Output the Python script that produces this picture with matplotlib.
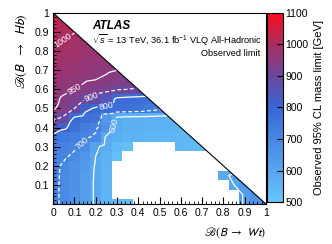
import numpy as np
import matplotlib
matplotlib.use("Agg")
import matplotlib.pyplot as plt
import matplotlib.tri as mtri
from matplotlib.colors import LinearSegmentedColormap
from matplotlib.ticker import MultipleLocator

plt.rcParams['font.family'] = ['Liberation Sans', 'DejaVu Sans']
plt.rcParams['mathtext.fontset'] = 'custom'
plt.rcParams['mathtext.rm'] = 'Liberation Sans'
plt.rcParams['mathtext.it'] = 'Liberation Sans:italic'

# bin centres of B(B->Wt) and B(B->Hb)
br_wt = [0.0, 0.05, 0.1, 0.15, 0.2, 0.25, 0.3, 0.35, 0.4, 0.45, 0.5,
         0.55, 0.6, 0.65, 0.7, 0.75, 0.8, 0.85, 0.9, 0.95, 1.0]
br_hb = br_wt

# observed mass limit [GeV], one list per B(B->Hb) row (y = 0 ... 1), x = 0 ... 1-y
# values below 500 are not shown (blank cells)
limit_rows = [
    [712, 690, 665, 628, 592, 555, 535, 530, 470, 470, 470, 470, 470, 470, 470, 470, 470, 470, 630, 660, 690],
    [712, 690, 665, 628, 592, 552, 470, 470, 470, 470, 470, 470, 470, 470, 470, 470, 470, 470, 630, 665],
    [712, 690, 665, 628, 592, 555, 470, 470, 470, 470, 470, 470, 470, 470, 470, 470, 470, 600, 645],
    [713, 691, 666, 630, 593, 558, 470, 470, 470, 470, 470, 470, 470, 470, 470, 470, 585, 615],
    [714, 693, 670, 635, 595, 560, 470, 470, 470, 470, 470, 470, 470, 470, 470, 470, 470],
    [720, 708, 690, 650, 600, 565, 525, 470, 470, 470, 470, 470, 470, 470, 470, 470],
    [730, 718, 708, 685, 612, 578, 540, 520, 470, 470, 470, 470, 545, 540, 540],
    [760, 740, 725, 710, 690, 590, 575, 562, 558, 555, 552, 550, 548, 545],
    [880, 815, 770, 730, 712, 660, 585, 572, 568, 565, 560, 558, 555],
    [915, 890, 790, 770, 760, 640, 585, 575, 572, 570, 568, 565],
    [955, 935, 900, 820, 790, 780, 770, 765, 760, 740, 720],
    [958, 945, 925, 900, 888, 850, 785, 778, 772, 765],
    [965, 957, 950, 942, 932, 918, 905, 900, 895],
    [972, 965, 958, 953, 950, 946, 940, 932],
    [982, 975, 968, 962, 957, 953, 950],
    [990, 983, 977, 970, 965, 960],
    [997, 990, 984, 978, 972],
    [1005, 998, 992, 985],
    [1020, 1005, 1001],
    [1030, 1018],
    [1040],
]

contour_levels = [600, 700, 800, 900, 950, 1000]
contour_dashed = [False, True, False, True, False, True]
# where the contour value is written
label_spots = [(0.27, 0.41), (0.12, 0.34), (0.25, 0.51), (0.18, 0.56), (0.1, 0.6), (0.05, 0.85)]
cbar_ticks = [500, 600, 700, 800, 900, 1000, 1100]

n = len(br_wt)
z = np.full((n, n), np.nan)
for j, row in enumerate(limit_rows):
    z[j, :len(row)] = row

xc = np.array(br_wt)
yc = np.array(br_hb)
xe = np.concatenate([xc - 0.025, [xc[-1] + 0.025]])
ye = np.concatenate([yc - 0.025, [yc[-1] + 0.025]])

cmap = LinearSegmentedColormap.from_list("atlas_vlq", [
    (0.0, (0.40, 0.78, 0.98)),
    (1/6, (0.34, 0.65, 0.94)),
    (2/6, (0.28, 0.53, 0.89)),
    (3/6, (0.22, 0.40, 0.83)),
    (4/6, (0.42, 0.28, 0.62)),
    (5/6, (0.66, 0.18, 0.38)),
    (1.0, (0.98, 0.05, 0.12)),
])
cmap.set_under("white")
cmap.set_bad("white")

fig = plt.figure(figsize=(3.32, 2.44), dpi=100)
ax = fig.add_axes([0.160, 0.164, 0.641, 0.783])
cax = fig.add_axes([0.804, 0.172, 0.048, 0.775])

mesh = ax.pcolormesh(xe, ye, np.ma.masked_invalid(z), cmap=cmap, vmin=500, vmax=1100,
                     shading="flat", zorder=1)

# contours on the valid (lower-left) triangle
X, Y = np.meshgrid(xc, yc)
ok = ~np.isnan(z)
tri = mtri.Triangulation(X[ok], Y[ok])
for lev, dashed, spot in zip(contour_levels, contour_dashed, label_spots):
    ls = [(0, (3, 2))] if dashed else ["solid"]
    cs = ax.tricontour(tri, z[ok], levels=[lev], colors="white",
                       linewidths=0.9, linestyles=ls, zorder=3)
    ax.clabel(cs, fmt="%d", fontsize=6.3, colors="white", inline=True,
              inline_spacing=1, manual=[spot])

# blank the unphysical region B(Wt) + B(Hb) > 1
ax.fill([0, 1, 1.05, 1.05, 0], [1, 0, 0, 1.05, 1.05], color="white", zorder=4, lw=0)
ax.plot([0, 1], [1, 0], color="black", lw=0.8, zorder=5)

ax.set_xlim(0, 1)
ax.set_ylim(0, 1)
ax.set_xticks([0, 0.1, 0.2, 0.3, 0.4, 0.5, 0.6, 0.7, 0.8, 0.9, 1.0],
              ["0", "0.1", "0.2", "0.3", "0.4", "0.5", "0.6", "0.7", "0.8", "0.9", "1"])
ax.set_yticks([0.1, 0.2, 0.3, 0.4, 0.5, 0.6, 0.7, 0.8, 0.9, 1.0],
              ["0.1", "0.2", "0.3", "0.4", "0.5", "0.6", "0.7", "0.8", "0.9", "1"])
ax.xaxis.set_minor_locator(MultipleLocator(0.02))
ax.yaxis.set_minor_locator(MultipleLocator(0.02))
ax.tick_params(which="major", direction="in", length=5, width=0.8, labelsize=7.5, pad=3,
               top=False, right=False)
ax.tick_params(which="minor", direction="in", length=2.5, width=0.6, top=False, right=False)
for sp in ax.spines.values():
    sp.set_linewidth(0.8)
    sp.set_zorder(6)

ax.set_xlabel(r"$\mathscr{B}(B \ \rightarrow\ Wt)$", fontsize=8.5, loc="right",
              math_fontfamily="stixsans", labelpad=5)
ax.set_ylabel(r"$\mathscr{B}(B \ \ \rightarrow\ \ Hb)$", fontsize=9.5, loc="top",
              math_fontfamily="stixsans", labelpad=4)

ax.text(0.183, 0.918, "ATLAS", transform=ax.transAxes, fontsize=8.5,
        fontweight="bold", fontstyle="italic", zorder=7)
ax.text(0.183, 0.836, r"$\sqrt{s}$ = 13 TeV, 36.1 fb$^{-1}$ VLQ All-Hadronic",
        transform=ax.transAxes, fontsize=6.7, zorder=7)
ax.text(0.972, 0.775, "Observed limit", transform=ax.transAxes, fontsize=6.7,
        ha="right", zorder=7)

cb = fig.colorbar(mesh, cax=cax, extend="neither")
cb.set_ticks(cbar_ticks)
cb.ax.tick_params(direction="in", length=4, width=0.8, labelsize=7.5, pad=2)
cb.outline.set_linewidth(0.8)
cb.set_label("Observed 95% CL mass limit [GeV]", fontsize=8, labelpad=4)

fig.savefig("out.png", dpi=100)
